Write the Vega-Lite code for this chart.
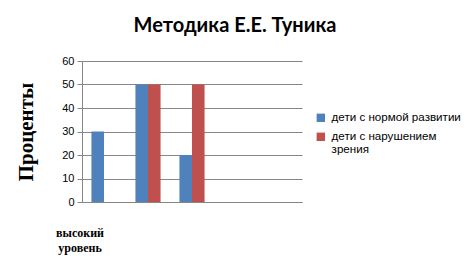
{
  "$schema": "https://vega.github.io/schema/vega-lite/v6.json",
  "autosize": {"type": "none"},
  "width": 220,
  "height": 141,
  "padding": {"left": 82, "top": 61, "right": 172, "bottom": 66},
  "background": "white",
  "title": {
    "text": "Методика Е.Е. Туника",
    "font": "Lato",
    "fontSize": 20,
    "fontWeight": "bold",
    "color": "#000000",
    "anchor": "middle",
    "dx": 43,
    "offset": 19
  },
  "data": {
    "values": [
      {"level": "высокий уровень", "group": "дети с нормой развитии", "value": 30},
      {"level": "высокий уровень", "group": "дети с нарушением зрения", "value": 0},
      {"level": "средний уровень", "group": "дети с нормой развитии", "value": 50},
      {"level": "средний уровень", "group": "дети с нарушением зрения", "value": 50},
      {"level": "низкий уровень", "group": "дети с нормой развитии", "value": 20},
      {"level": "низкий уровень", "group": "дети с нарушением зрения", "value": 50},
      {"level": "4", "group": "дети с нормой развитии", "value": null},
      {"level": "5", "group": "дети с нормой развитии", "value": null}
    ]
  },
  "mark": {"type": "bar"},
  "encoding": {
    "x": {
      "field": "level",
      "type": "nominal",
      "sort": ["высокий уровень", "средний уровень", "низкий уровень", "4", "5"],
      "scale": {"paddingInner": 0, "paddingOuter": 0},
      "axis": {
        "title": null,
        "labelAngle": 0,
        "labelExpr": "datum.value == 'высокий уровень' ? ['высокий', 'уровень'] : ''",
        "labelFont": "Liberation Serif",
        "labelFontWeight": "bold",
        "labelFontSize": 12,
        "labelColor": "#000000",
        "labelPadding": 25,
        "labelOffset": -24,
        "labelLineHeight": 15,
        "labelOverlap": false,
        "ticks": false,
        "domainColor": "#868686",
        "grid": false
      }
    },
    "xOffset": {
      "field": "group",
      "type": "nominal",
      "sort": ["дети с нормой развитии", "дети с нарушением зрения"],
      "scale": {"paddingInner": 0, "paddingOuter": 0.75}
    },
    "y": {
      "field": "value",
      "type": "quantitative",
      "scale": {"domain": [0, 60], "nice": false},
      "axis": {
        "title": "Проценты",
        "titleFont": "Liberation Serif",
        "titleFontWeight": "bold",
        "titleFontSize": 21,
        "titleColor": "#000000",
        "titlePadding": 25,
        "values": [0, 10, 20, 30, 40, 50, 60],
        "labelFont": "Liberation Sans",
        "labelFontSize": 11,
        "labelColor": "#000000",
        "labelPadding": 3,
        "tickSize": 5,
        "tickColor": "#868686",
        "domainColor": "#868686",
        "gridColor": "#868686",
        "grid": true
      }
    },
    "color": {
      "field": "group",
      "type": "nominal",
      "sort": ["дети с нормой развитии", "дети с нарушением зрения"],
      "scale": {"range": ["#4F81BD", "#C0504D"]},
      "legend": {
        "title": null,
        "orient": "none",
        "legendX": 233,
        "legendY": 51,
        "symbolType": "square",
        "symbolSize": 70,
        "symbolStrokeWidth": 0,
        "labelFont": "Liberation Sans",
        "labelFontSize": 11.6,
        "labelColor": "#000000",
        "labelExpr": "datum.value == 'дети с нарушением зрения' ? ['дети с нарушением', 'зрения'] : datum.value",
        "labelLimit": 200,
        "rowPadding": 6,
        "labelOffset": 5
      }
    }
  },
  "config": {"view": {"stroke": null}}
}
